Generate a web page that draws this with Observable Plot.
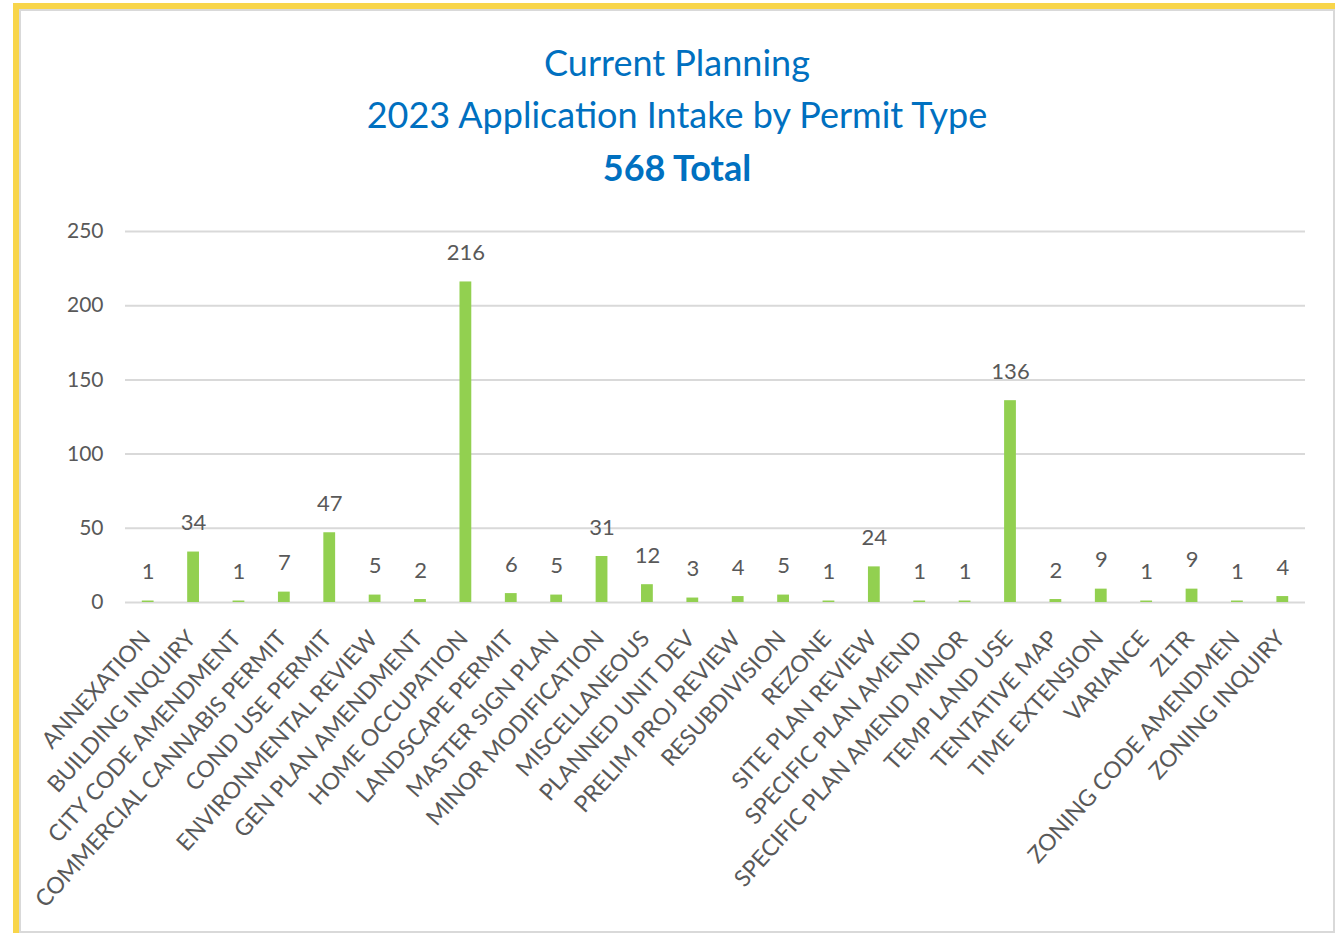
<!DOCTYPE html>
<html>
<head>
<meta charset="utf-8">
<script src="https://cdn.jsdelivr.net/npm/d3@7"></script>
<script src="https://cdn.jsdelivr.net/npm/@observablehq/plot@0.6"></script>
<style>
  html, body { margin: 0; padding: 0; background: #fff; width: 1337px; height: 934px; overflow: hidden; font-family: Lato, "Open Sans", sans-serif; }
  #frame { position: absolute; left: 13px; top: 3px; width: 1322px; height: 930px; border-left: 6px solid #F8D54A; border-top: 6px solid #F8D54A; box-sizing: border-box; }
  #inner { position: absolute; left: 19px; top: 9px; width: 1316px; height: 924px; border: 2px solid #d9d9d9; box-sizing: border-box; }
  .t { position: absolute; left: 0; width: 1354px; text-align: center; color: #0070C0; font-size: 36px; line-height: 40px; }
  #chart { position: absolute; left: 0; top: 190px; }
</style>
</head>
<body>
<div id="frame"></div>
<div id="inner"></div>
<div class="t" style="top:42px">Current Planning</div>
<div class="t" style="top:94px">2023 Application Intake by Permit Type</div>
<div class="t" style="top:147px;font-weight:bold">568 Total</div>
<div id="chart"></div>
<script>
const categories = ["ANNEXATION","BUILDING INQUIRY","CITY CODE AMENDMENT","COMMERCIAL CANNABIS PERMIT","COND USE PERMIT","ENVIRONMENTAL REVIEW","GEN PLAN AMENDMENT","HOME OCCUPATION","LANDSCAPE PERMIT","MASTER SIGN PLAN","MINOR MODIFICATION","MISCELLANEOUS","PLANNED UNIT DEV","PRELIM PROJ REVIEW","RESUBDIVISION","REZONE","SITE PLAN REVIEW","SPECIFIC PLAN AMEND","SPECIFIC PLAN AMEND MINOR","TEMP LAND USE","TENTATIVE MAP","TIME EXTENSION","VARIANCE","ZLTR","ZONING CODE AMENDMEN","ZONING INQUIRY"];
const counts = [1,34,1,7,47,5,2,216,6,5,31,12,3,4,5,1,24,1,1,136,2,9,1,9,1,4];
const yTicks = [0,50,100,150,200,250];

const data = categories.map((c, i) => ({category: c, count: counts[i]}));

const chart = Plot.plot({
  width: 1337,
  height: 730,
  marginLeft: 125,
  marginRight: 32,
  marginTop: 41,
  marginBottom: 318,
  style: {fontFamily: "Lato, 'Open Sans', sans-serif", background: "transparent"},
  x: {domain: categories, paddingInner: 0.74, paddingOuter: 0.37, round: false},
  y: {domain: [0, 250]},
  marks: [
    Plot.gridY(yTicks, {stroke: "#d9d9d9", strokeWidth: 2, strokeOpacity: 1}),
    Plot.axisY(yTicks, {tickSize: 0, tickPadding: 22, fontSize: 21, color: "#595959", label: null}),
    Plot.barY(data, {x: "category", y: "count", fill: "#92D050"}),
    Plot.text(data, {x: "category", y: "count", text: d => String(d.count), dy: -29, fontSize: 22, fill: "#595959"}),
    Plot.axisX({tickSize: 0, tickPadding: 32, dx: -2, tickRotate: -48, fontSize: 23, color: "#595959", label: null})
  ]
});
document.getElementById("chart").appendChild(chart);
</script>
</body>
</html>
